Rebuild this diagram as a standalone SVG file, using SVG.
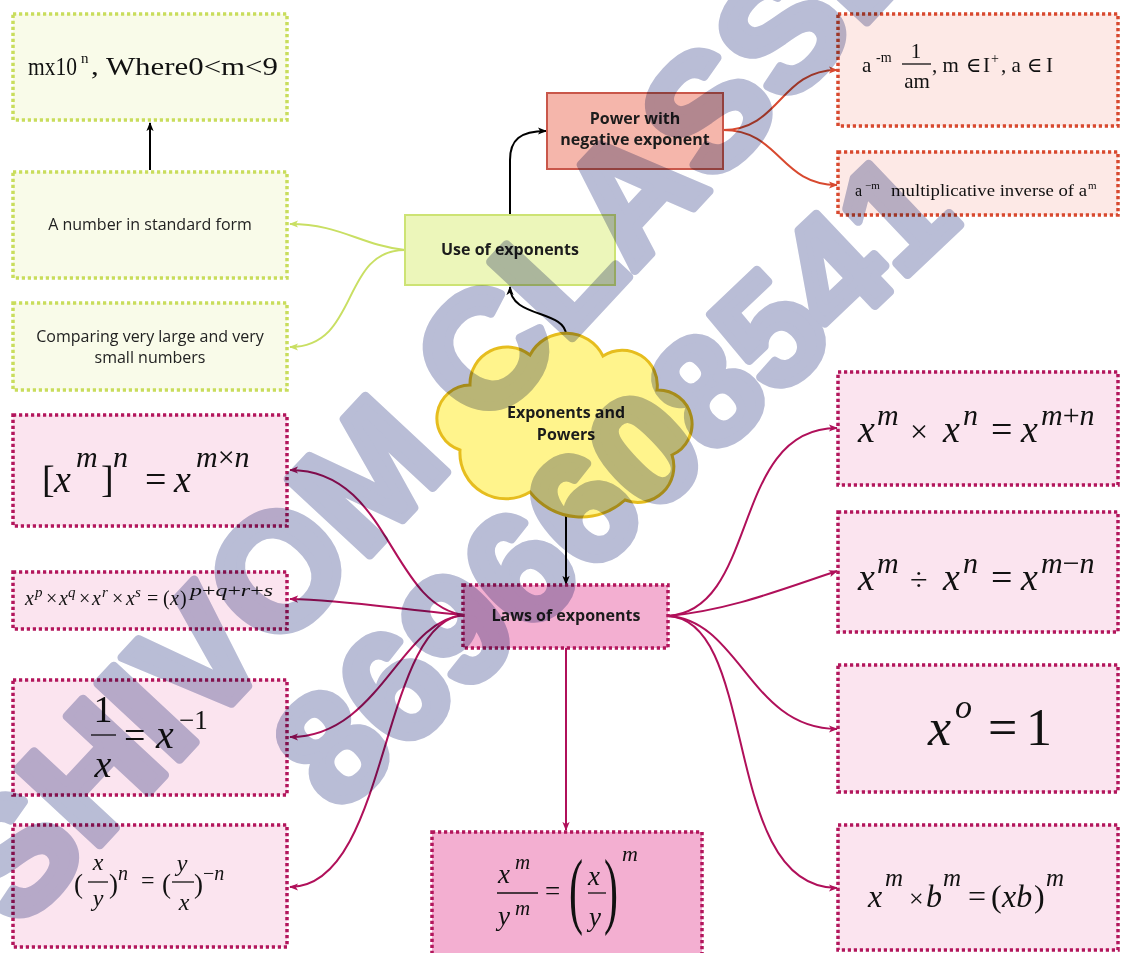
<svg xmlns="http://www.w3.org/2000/svg" width="1121" height="953" viewBox="0 0 1121 953">
<style>
.lbl{font-family:"Open Sans","Noto Sans","Liberation Sans",sans-serif;font-size:16px;fill:#222;text-anchor:middle}
.b{font-weight:bold;fill:#1c1c1c}
.m{font-family:"Liberation Serif","DejaVu Serif",serif;fill:#111}
.i{font-style:italic}
.gbox{fill:#f9fbe9;stroke:#c9dd5c;stroke-width:3.5;stroke-dasharray:3.2 2.8}
.rbox{fill:#fde9e6;stroke:#d8492f;stroke-width:3.5;stroke-dasharray:3.2 2.8}
.pbox{fill:#fbe4ef;stroke:#b3165c;stroke-width:3.5;stroke-dasharray:3.2 2.8}
.pbox2{fill:#f3afd1;stroke:#b3165c;stroke-width:3.5;stroke-dasharray:3.2 2.8}
.c{fill:none;stroke-width:2}
.ck{stroke:#000}
.cm{stroke:#b0105a}
.cg{stroke:#c9df63}
.cr{stroke:#d8492f}
.bar{stroke:#111;stroke-width:1.3}
.wm{font-family:"Liberation Sans",Arial,sans-serif;font-weight:bold;fill:#b9bdd6;stroke:#b9bdd6;stroke-width:9;stroke-linejoin:round;mix-blend-mode:multiply}
</style>
<defs>
<marker id="ak" viewBox="0 0 10 10" refX="9" refY="5" markerWidth="9" markerHeight="9" markerUnits="userSpaceOnUse" orient="auto"><path d="M0,1 L10,5 L0,9 L2.5,5 Z" fill="#000"/></marker>
<marker id="am" viewBox="0 0 10 10" refX="9" refY="5" markerWidth="9" markerHeight="9" markerUnits="userSpaceOnUse" orient="auto"><path d="M0,1 L10,5 L0,9 L2.5,5 Z" fill="#b0105a"/></marker>
<marker id="ag" viewBox="0 0 10 10" refX="9" refY="5" markerWidth="9" markerHeight="9" markerUnits="userSpaceOnUse" orient="auto"><path d="M0,1 L10,5 L0,9 L2.5,5 Z" fill="#c9df63"/></marker>
<marker id="ar" viewBox="0 0 10 10" refX="9" refY="5" markerWidth="9" markerHeight="9" markerUnits="userSpaceOnUse" orient="auto"><path d="M0,1 L10,5 L0,9 L2.5,5 Z" fill="#d8492f"/></marker>
</defs>
<rect width="1121" height="953" fill="#fff"/>

<g id="connectors">
<path class="c ck" d="M150,170 L150,123" marker-end="url(#ak)"/>
<path class="c ck" d="M566,335 C566,310 510,318 510,287" marker-end="url(#ak)"/>
<path class="c ck" d="M510,215 L510,160 C510,140 520,131 546,131" marker-end="url(#ak)"/>
<path class="c ck" d="M566,515 L566,584" marker-end="url(#ak)"/>
<path class="c cg" d="M405,250 C360,245 340,224 290,224" marker-end="url(#ag)"/>
<path class="c cg" d="M405,250 C340,250 360,347 290,347" marker-end="url(#ag)"/>
<path class="c cr" d="M723,130 C780,130 780,70 837,70" marker-end="url(#ar)"/>
<path class="c cr" d="M723,130 C780,130 780,185 837,185" marker-end="url(#ar)"/>
<path class="c cm" d="M464,615 C390,605 390,470 290,470" marker-end="url(#am)"/>
<path class="c cm" d="M464,615 C400,610 350,600 290,599" marker-end="url(#am)"/>
<path class="c cm" d="M464,615 C400,620 380,737 290,737" marker-end="url(#am)"/>
<path class="c cm" d="M464,615 C380,620 390,887 290,887" marker-end="url(#am)"/>
<path class="c cm" d="M668,616 C760,610 730,428 837,428" marker-end="url(#am)"/>
<path class="c cm" d="M668,616 C730,610 780,590 837,571" marker-end="url(#am)"/>
<path class="c cm" d="M668,616 C740,620 750,729 837,729" marker-end="url(#am)"/>
<path class="c cm" d="M668,616 C760,620 720,888 837,888" marker-end="url(#am)"/>
<path class="c cm" d="M566,648 L566,830" marker-end="url(#am)"/>
</g>

<g id="n-standard-value">
<rect class="gbox" x="13" y="14" width="274" height="106"/>
<text class="m" font-size="25" y="75"><tspan x="28" textLength="49" lengthAdjust="spacingAndGlyphs">mx10</tspan><tspan x="81" y="63" font-size="15">n</tspan><tspan x="91" y="75" textLength="187" lengthAdjust="spacingAndGlyphs">, Where0&lt;m&lt;9</tspan></text>
</g>
<g id="n-standard-form">
<rect class="gbox" x="13" y="172" width="274" height="106"/>
<text class="lbl" x="150" y="230">A number in standard form</text>
</g>
<g id="n-compare">
<rect class="gbox" x="13" y="303" width="274" height="87"/>
<text class="lbl" x="150" y="342">Comparing very large and very</text>
<text class="lbl" x="150" y="363">small numbers</text>
</g>
<g id="n-use">
<rect x="405" y="215" width="210" height="70" fill="#ecf6ba" stroke="#cde374" stroke-width="2"/>
<text class="lbl b" x="510" y="255">Use of exponents</text>
</g>
<g id="n-negative">
<rect x="547" y="93" width="176" height="76" fill="#f5b6ab" stroke="#c9574a" stroke-width="2"/>
<text class="lbl b" x="635" y="124">Power with</text>
<text class="lbl b" x="635" y="145">negative exponent</text>
</g>
<g id="n-neg-def">
<rect class="rbox" x="838" y="14" width="280" height="112"/>
<text class="m" font-size="21" y="72"><tspan x="862">a</tspan><tspan x="876" y="62" font-size="14">-m</tspan><tspan x="932" y="72">, m</tspan><tspan x="966">∈</tspan><tspan x="983">I</tspan><tspan x="991" y="63" font-size="14">+</tspan><tspan x="1001" y="72">, a</tspan><tspan x="1027">∈</tspan><tspan x="1046">I</tspan></text>
<text class="m" font-size="21" x="916" y="58" text-anchor="middle">1</text>
<line class="bar" x1="902" y1="64" x2="931" y2="64"/>
<text class="m" font-size="21" x="917" y="88" text-anchor="middle">am</text>
</g>
<g id="n-neg-inverse">
<rect class="rbox" x="838" y="152" width="280" height="63"/>
<text class="m" font-size="16" y="196"><tspan x="855">a</tspan><tspan x="865" y="189" font-size="11">−m</tspan><tspan x="891" y="196" textLength="196" lengthAdjust="spacingAndGlyphs">multiplicative inverse of a</tspan><tspan x="1088" y="189" font-size="11">m</tspan></text>
</g>
<g id="n-root">
<path d="M470,385 A37,37 0 0 1 530,355 A41,41 0 0 1 603,356 A35,35 0 0 1 657,390 A34,34 0 0 1 672,455 A36,36 0 0 1 625,500 A65,65 0 0 1 530,492 A46,46 0 0 1 460,450 A33.3,33.3 0 0 1 470,385 Z" fill="#fff48c" stroke="#e6bd1e" stroke-width="3"/>
<text class="lbl b" x="566" y="418">Exponents and</text>
<text class="lbl b" x="566" y="440">Powers</text>
</g>
<g id="n-laws">
<rect class="pbox2" x="463" y="585" width="205" height="63"/>
<text class="lbl b" x="566" y="621">Laws of exponents</text>
</g>
<g id="n-power-of-power">
<rect class="pbox" x="13" y="415" width="274" height="111"/>
<text class="m" font-size="38" y="492"><tspan x="42">[</tspan><tspan class="i" x="54">x</tspan><tspan class="i" x="76" y="467" font-size="30">m</tspan><tspan x="101" y="492">]</tspan><tspan class="i" x="113" y="467" font-size="30">n</tspan><tspan x="145" y="492">=</tspan><tspan class="i" x="174">x</tspan><tspan x="196" y="467" font-size="30"><tspan class="i">m</tspan>×<tspan class="i">n</tspan></tspan></text>
</g>
<g id="n-product-many">
<rect class="pbox" x="13" y="572" width="274" height="57"/>
<text class="m i" font-size="20" y="605"><tspan x="25">x</tspan><tspan x="35" y="597" font-size="15">p</tspan><tspan x="46" y="605" font-style="normal">×</tspan><tspan x="59">x</tspan><tspan x="68" y="597" font-size="15">q</tspan><tspan x="79" y="605" font-style="normal">×</tspan><tspan x="92">x</tspan><tspan x="102" y="597" font-size="15">r</tspan><tspan x="112" y="605" font-style="normal">×</tspan><tspan x="126">x</tspan><tspan x="135" y="597" font-size="15">s</tspan><tspan x="147" y="605" font-style="normal">=</tspan><tspan x="163" font-style="normal">(</tspan><tspan x="170">x</tspan><tspan x="180" font-style="normal">)</tspan><tspan x="190" y="596" font-size="16" textLength="83" lengthAdjust="spacingAndGlyphs">p<tspan font-style="normal">+</tspan>q<tspan font-style="normal">+</tspan>r<tspan font-style="normal">+</tspan>s</tspan></text>
</g>
<g id="n-reciprocal">
<rect class="pbox" x="13" y="680" width="274" height="115"/>
<text class="m" font-size="38" x="103" y="722" text-anchor="middle">1</text>
<line class="bar" x1="91" y1="735" x2="116" y2="735" stroke-width="1.8"/>
<text class="m i" font-size="38" x="103" y="777" text-anchor="middle">x</text>
<text class="m" font-size="38" y="748"><tspan x="124">=</tspan><tspan class="i" x="156" font-size="40">x</tspan><tspan x="179" y="729" font-size="27">−1</tspan></text>
</g>
<g id="n-fraction-negative">
<rect class="pbox" x="13" y="825" width="274" height="122"/>
<text class="m" font-size="27" y="893"><tspan x="74">(</tspan><tspan x="109">)</tspan><tspan x="162">(</tspan><tspan x="194">)</tspan></text>
<text class="m i" font-size="24" text-anchor="middle"><tspan x="98" y="870">x</tspan><tspan x="98" y="906">y</tspan><tspan x="182" y="871">y</tspan><tspan x="184" y="910">x</tspan></text>
<line class="bar" x1="88" y1="882" x2="108" y2="882"/>
<line class="bar" x1="172" y1="882" x2="194" y2="882"/>
<text class="m" font-size="24"><tspan class="i" x="118" y="880" font-size="20">n</tspan><tspan x="141" y="888">=</tspan><tspan x="203" y="880" font-size="20">−<tspan class="i">n</tspan></tspan></text>
</g>
<g id="n-product">
<rect class="pbox" x="838" y="372" width="280" height="113"/>
<text class="m" font-size="38" y="442"><tspan class="i" x="858">x</tspan><tspan class="i" x="877" y="425" font-size="30">m</tspan><tspan x="910" y="442" font-size="32">×</tspan><tspan class="i" x="943" y="442">x</tspan><tspan class="i" x="963" y="425" font-size="30">n</tspan><tspan x="991" y="442">=</tspan><tspan class="i" x="1021">x</tspan><tspan x="1041" y="425" font-size="30"><tspan class="i">m</tspan>+<tspan class="i">n</tspan></tspan></text>
</g>
<g id="n-quotient">
<rect class="pbox" x="838" y="512" width="280" height="120"/>
<text class="m" font-size="38" y="590"><tspan class="i" x="858">x</tspan><tspan class="i" x="877" y="573" font-size="30">m</tspan><tspan x="910" y="590" font-size="32">÷</tspan><tspan class="i" x="943" y="590">x</tspan><tspan class="i" x="963" y="573" font-size="30">n</tspan><tspan x="991" y="590">=</tspan><tspan class="i" x="1021">x</tspan><tspan x="1041" y="573" font-size="30"><tspan class="i">m</tspan>−<tspan class="i">n</tspan></tspan></text>
</g>
<g id="n-zero">
<rect class="pbox" x="838" y="665" width="280" height="127"/>
<text class="m" font-size="52" y="745"><tspan class="i" x="928">x</tspan><tspan class="i" x="955" y="718" font-size="34">o</tspan><tspan x="988" y="745">=</tspan><tspan x="1026">1</tspan></text>
</g>
<g id="n-same-power">
<rect class="pbox" x="838" y="825" width="280" height="125"/>
<text class="m" font-size="32" y="907"><tspan class="i" x="868">x</tspan><tspan class="i" x="885" y="886" font-size="25">m</tspan><tspan x="909" y="907" font-size="26">×</tspan><tspan class="i" x="926">b</tspan><tspan class="i" x="943" y="886" font-size="25">m</tspan><tspan x="968" y="907">=</tspan><tspan x="991">(</tspan><tspan class="i" x="1002">xb</tspan><tspan x="1034">)</tspan><tspan class="i" x="1046" y="886" font-size="25">m</tspan></text>
</g>
<g id="n-quotient-power">
<rect class="pbox2" x="432" y="832" width="270" height="130"/>
<text class="m i" font-size="27"><tspan x="498" y="883">x</tspan><tspan x="515" y="869" font-size="21">m</tspan><tspan x="498" y="925">y</tspan><tspan x="515" y="915" font-size="21">m</tspan><tspan x="588" y="885">x</tspan><tspan x="589" y="926">y</tspan><tspan x="622" y="861" font-size="22">m</tspan></text>
<line class="bar" x1="497" y1="893" x2="538" y2="893"/>
<line class="bar" x1="588" y1="893" x2="606" y2="893"/>
<text class="m" font-size="27" x="545" y="900">=</text>
<text class="m" font-size="84" transform="translate(569,918) scale(0.5,1)">(</text>
<text class="m" font-size="84" transform="translate(604,918) scale(0.5,1)">)</text>
</g>

<g id="watermark">
<text class="wm" font-size="162" text-anchor="middle" transform="translate(470,362) rotate(-47)" dy="0.36em">SHIVOM CLASSES</text>
<text class="wm" font-size="155" text-anchor="middle" transform="translate(612,478) rotate(-43.5)" dy="0.36em">8696608541</text>
</g>
</svg>
